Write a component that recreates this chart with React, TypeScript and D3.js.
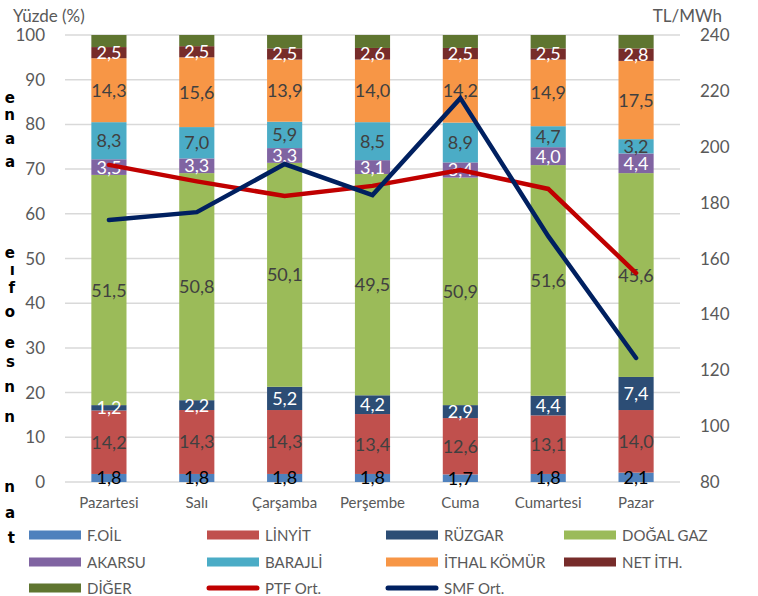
import React from "react";
import * as d3 from "d3";

const days = ["Pazartesi", "Salı", "Çarşamba", "Perşembe", "Cuma", "Cumartesi", "Pazar"];
const fOil = [1.8, 1.8, 1.8, 1.8, 1.7, 1.8, 2.1];
const linyit = [14.2, 14.3, 14.3, 13.4, 12.6, 13.1, 14.0];
const ruzgar = [1.2, 2.2, 5.2, 4.2, 2.9, 4.4, 7.4];
const dogalGaz = [51.5, 50.8, 50.1, 49.5, 50.9, 51.6, 45.6];
const akarsu = [3.5, 3.3, 3.3, 3.1, 3.4, 4.0, 4.4];
const barajli = [8.3, 7.0, 5.9, 8.5, 8.9, 4.7, 3.2];
const ithalKomur = [14.3, 15.6, 13.9, 14.0, 14.2, 14.9, 17.5];
const netIth = [2.5, 2.5, 2.5, 2.6, 2.5, 2.5, 2.8];
const diger = [2.7, 2.5, 3.0, 2.9, 2.9, 3.0, 3.0];
const ptfOrt = [193.5, 187.6, 182.4, 186, 191.7, 184.9, 154.8];
const smfOrt = [173.8, 176.6, 193.8, 182.7, 217.4, 168, 124.4];
const leftTicks = [0, 10, 20, 30, 40, 50, 60, 70, 80, 90, 100];
const rightTicks = [80, 100, 120, 140, 160, 180, 200, 220, 240];
const edgeLetters = [
  ["e", 103], ["n", 120], ["a", 144], ["a", 167], ["e", 258], ["ı", 275],
  ["f", 293], ["o", 317], ["e", 348], ["s", 367], ["n", 392], ["n", 422],
  ["n", 492], ["a", 518], ["t", 543],
];

const series = [
  { name: "F.OİL", data: fOil, color: "#4F81BD", label: "#000000" },
  { name: "LİNYİT", data: linyit, color: "#C0504D", label: "#404040" },
  { name: "RÜZGAR", data: ruzgar, color: "#2C4D75", label: "#FFFFFF" },
  { name: "DOĞAL GAZ", data: dogalGaz, color: "#9BBB59", label: "#404040" },
  { name: "AKARSU", data: akarsu, color: "#8064A2", label: "#FFFFFF" },
  { name: "BARAJLİ", data: barajli, color: "#4BACC6", label: "#404040" },
  { name: "İTHAL KÖMÜR", data: ithalKomur, color: "#F79646", label: "#404040" },
  { name: "NET İTH.", data: netIth, color: "#772C2A", label: "#FFFFFF" },
  { name: "DİĞER", data: diger, color: "#5F7530", label: null },
];

const lines = [
  { name: "PTF Ort.", data: ptfOrt, color: "#C00000" },
  { name: "SMF Ort.", data: smfOrt, color: "#002060" },
];

export default function App() {
  const W = 758, H = 596;
  const left = 65, right = 680, top = 35, bottom = 482;
  const font = "Lato, 'Open Sans', sans-serif";
  const x = d3.scaleBand().domain(days).range([left, right]).paddingInner(0.6).paddingOuter(0.3);
  const y = d3.scaleLinear().domain([0, 100]).range([bottom, top]);
  const y2 = d3.scaleLinear().domain([80, 240]).range([bottom, top]);

  const rows = days.map((d, i) => {
    const r: any = { day: d };
    series.forEach((s) => (r[s.name] = s.data[i]));
    return r;
  });
  const stack = d3.stack().keys(series.map((s) => s.name))(rows);
  const fmt = (v: number) => v.toFixed(1).replace(".", ",");

  const legendItems = [...series.map((s) => ({ name: s.name, color: s.color, line: false })), ...lines.map((l) => ({ name: l.name, color: l.color, line: true }))];
  const colX = [29, 207, 386, 564];
  const rowY = [535, 562, 588];

  return (
    <svg width={W} height={H} style={{ position: "absolute", left: 0, top: 0, background: "#fff" }}>
      <rect width={W} height={H} fill="#fff" />
      {edgeLetters.map(([c, yy], i) => (
        <text key={"e" + i} x={15} y={yy as number} textAnchor="end" fontFamily="'DejaVu Sans', sans-serif" fontWeight="bold" fontSize={15} fill="#000">
          {c}
        </text>
      ))}
      {leftTicks.map((t) => (
        <g key={"g" + t}>
          <line x1={left} x2={right} y1={y(t)} y2={y(t)} stroke="#D9D9D9" strokeWidth={1.5} />
          <text x={45} y={y(t) + 6} textAnchor="end" fontFamily={font} fontSize={17} fill="#595959">{t}</text>
        </g>
      ))}
      {rightTicks.map((t) => (
        <text key={"r" + t} x={700} y={y2(t) + 6} fontFamily={font} fontSize={17} fill="#595959">{t}</text>
      ))}
      <text x={13} y={22} fontFamily={font} fontSize={17} fill="#595959">Yüzde (%)</text>
      <text x={722} y={22} textAnchor="end" fontFamily={font} fontSize={17} fill="#595959">TL/MWh</text>
      {stack.map((layer, si) => (
        <g key={"s" + si}>
          {layer.map((seg, i) => (
            <rect key={i} x={x(days[i])} width={x.bandwidth()} y={y(seg[1])} height={y(seg[0]) - y(seg[1])} fill={series[si].color} />
          ))}
        </g>
      ))}
      {stack.map((layer, si) =>
        series[si].label ? (
          <g key={"l" + si}>
            {layer.map((seg, i) => (
              <text key={i} x={(x(days[i]) as number) + x.bandwidth() / 2} y={(y(seg[0]) + y(seg[1])) / 2 + 6.5} textAnchor="middle" fontFamily={font} fontSize={18} fill={series[si].label as string}>
                {fmt(series[si].data[i])}
              </text>
            ))}
          </g>
        ) : null
      )}
      {lines.map((l) => {
        const gen = d3.line<number>().x((_, i) => (x(days[i]) as number) + x.bandwidth() / 2).y((v) => y2(v));
        return <path key={l.name} d={gen(l.data) as string} fill="none" stroke={l.color} strokeWidth={4.5} strokeLinejoin="miter" strokeLinecap="round" />;
      })}
      {days.map((d) => (
        <text key={d} x={(x(d) as number) + x.bandwidth() / 2} y={508} textAnchor="middle" fontFamily={font} fontSize={15} fill="#595959">{d}</text>
      ))}
      {legendItems.map((it, i) => {
        const cx = colX[i % 4];
        const cy = rowY[Math.floor(i / 4)];
        return (
          <g key={it.name}>
            {it.line ? (
              <line x1={cx + 2} x2={cx + 50} y1={cy} y2={cy} stroke={it.color} strokeWidth={5} strokeLinecap="round" />
            ) : (
              <rect x={cx} y={cy - 4.5} width={52} height={9} fill={it.color} />
            )}
            <text x={cx + 58} y={cy + 5.5} fontFamily={font} fontSize={15} fill="#595959">{it.name}</text>
          </g>
        );
      })}
    </svg>
  );
}
